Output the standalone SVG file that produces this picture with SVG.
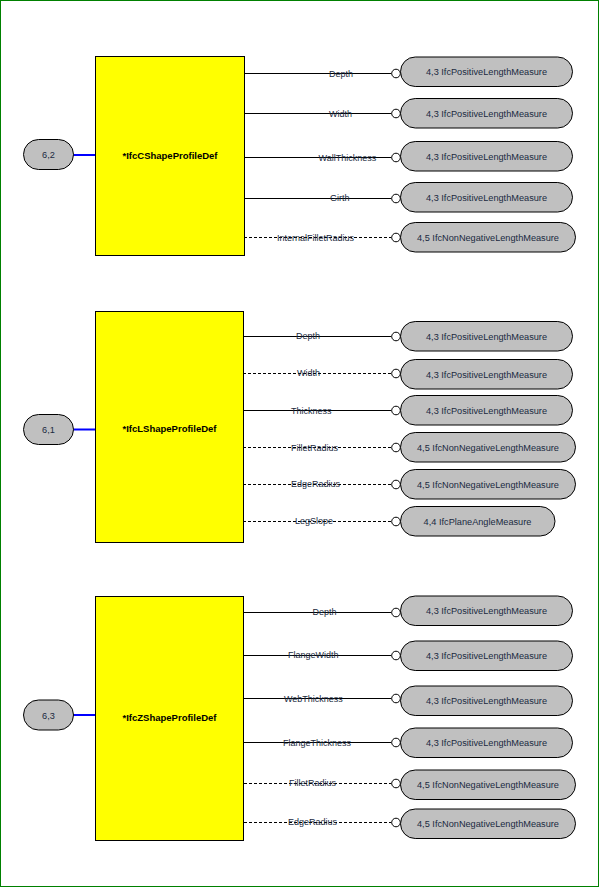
<svg xmlns="http://www.w3.org/2000/svg" width="600" height="888" viewBox="0 0 600 888">
<style>
.frame{fill:#fff;stroke:#008000;stroke-width:1}
.ent{fill:#ffff00;stroke:#000;stroke-width:1}
.ename{font-family:"Liberation Sans",Arial,sans-serif;font-size:9.5px;font-weight:bold;fill:#000;text-anchor:middle}
.pill{fill:#c0c0c0;stroke:#000;stroke-width:1}
.ptxt{font-family:"Liberation Sans",Arial,sans-serif;font-size:9.2px;fill:#1a2a40;text-anchor:middle}
.lbl{font-family:"Liberation Sans",Arial,sans-serif;font-size:9px;fill:#1a2a40}
.ln{stroke:#000;stroke-width:1;fill:none}
.dash{stroke:#000;stroke-width:1;fill:none;stroke-dasharray:3,2}
.blue{stroke:#0000ff;stroke-width:2;fill:none}
.cir{fill:#fff;stroke:#000;stroke-width:1}
</style>
<rect class="frame" x="0.5" y="0.5" width="598" height="886"/>

<g id="connectors">
  <line class="blue" x1="73" y1="155" x2="95" y2="155"/>
  <line class="blue" x1="73" y1="429.5" x2="95" y2="429.5"/>
  <line class="blue" x1="73" y1="715" x2="95" y2="715"/>

  <line class="ln" x1="244" y1="73.5" x2="391.5" y2="73.5"/>
  <line class="ln" x1="244" y1="113.5" x2="391.5" y2="113.5"/>
  <line class="ln" x1="244" y1="157.5" x2="391.5" y2="157.5"/>
  <line class="ln" x1="244" y1="198.5" x2="391.5" y2="198.5"/>
  <line class="dash" x1="244" y1="237.5" x2="391.5" y2="237.5"/>

  <line class="ln" x1="243" y1="336.5" x2="391.5" y2="336.5"/>
  <line class="dash" x1="243" y1="373.5" x2="391.5" y2="373.5"/>
  <line class="ln" x1="243" y1="410.5" x2="391.5" y2="410.5"/>
  <line class="dash" x1="243" y1="447.5" x2="391.5" y2="447.5"/>
  <line class="dash" x1="243" y1="484.5" x2="391.5" y2="484.5"/>
  <line class="dash" x1="243" y1="521.5" x2="391.5" y2="521.5"/>

  <line class="ln" x1="244" y1="612.5" x2="391.5" y2="612.5"/>
  <line class="ln" x1="244" y1="655.5" x2="391.5" y2="655.5"/>
  <line class="ln" x1="244" y1="698.5" x2="391.5" y2="698.5"/>
  <line class="ln" x1="244" y1="742.5" x2="391.5" y2="742.5"/>
  <line class="dash" x1="244" y1="783.5" x2="391.5" y2="783.5"/>
  <line class="dash" x1="244" y1="822.5" x2="391.5" y2="822.5"/>

  <g>
    <circle class="cir" cx="396" cy="73.5" r="4.3"/>
    <circle class="cir" cx="396" cy="113.5" r="4.3"/>
    <circle class="cir" cx="396" cy="157.5" r="4.3"/>
    <circle class="cir" cx="396" cy="198.5" r="4.3"/>
    <circle class="cir" cx="396" cy="237.5" r="4.3"/>
    <circle class="cir" cx="396" cy="336.5" r="4.3"/>
    <circle class="cir" cx="396" cy="373.5" r="4.3"/>
    <circle class="cir" cx="396" cy="410.5" r="4.3"/>
    <circle class="cir" cx="396" cy="447.5" r="4.3"/>
    <circle class="cir" cx="396" cy="484.5" r="4.3"/>
    <circle class="cir" cx="396" cy="521.5" r="4.3"/>
    <circle class="cir" cx="396" cy="612.5" r="4.3"/>
    <circle class="cir" cx="396" cy="655.5" r="4.3"/>
    <circle class="cir" cx="396" cy="698.5" r="4.3"/>
    <circle class="cir" cx="396" cy="742.5" r="4.3"/>
    <circle class="cir" cx="396" cy="783.5" r="4.3"/>
    <circle class="cir" cx="396" cy="822.5" r="4.3"/>
  </g>

  <text class="lbl" x="329" y="76.5">Depth</text>
  <text class="lbl" x="329" y="116.5">Width</text>
  <text class="lbl" x="318.5" y="160.5">WallThickness</text>
  <text class="lbl" x="330" y="201">Girth</text>
  <text class="lbl" x="277" y="240.5">InternalFilletRadius</text>

  <text class="lbl" x="296" y="339">Depth</text>
  <text class="lbl" x="297" y="376">Width</text>
  <text class="lbl" x="291" y="413.5">Thickness</text>
  <text class="lbl" x="291" y="450.5">FilletRadius</text>
  <text class="lbl" x="291" y="487">EdgeRadius</text>
  <text class="lbl" x="295" y="524">LegSlope</text>

  <text class="lbl" x="312.5" y="614.5">Depth</text>
  <text class="lbl" x="288" y="658">FlangeWidth</text>
  <text class="lbl" x="284" y="701.5">WebThickness</text>
  <text class="lbl" x="283" y="745.5">FlangeThickness</text>
  <text class="lbl" x="289" y="786">FilletRadius</text>
  <text class="lbl" x="288" y="825">EdgeRadius</text>
</g>

<g id="IfcCShapeProfileDef">
  <rect class="ent" x="95.5" y="56.5" width="149" height="199"/>
  <text class="ename" x="170" y="159">*IfcCShapeProfileDef</text>
</g>
<g id="ref62">
  <rect class="pill" x="23.5" y="139.5" width="50" height="30" rx="15"/>
  <text class="ptxt" x="48.5" y="158">6,2</text>
</g>
<g id="c_depth"><rect class="pill" x="400.5" y="57" width="172" height="29.5" rx="14.75"/><text class="ptxt" x="486.5" y="75">4,3 IfcPositiveLengthMeasure</text></g>
<g id="c_width"><rect class="pill" x="400.5" y="98.5" width="172" height="29.5" rx="14.75"/><text class="ptxt" x="486.5" y="116.5">4,3 IfcPositiveLengthMeasure</text></g>
<g id="c_wall"><rect class="pill" x="400.5" y="141.5" width="172" height="29.5" rx="14.75"/><text class="ptxt" x="486.5" y="159.5">4,3 IfcPositiveLengthMeasure</text></g>
<g id="c_girth"><rect class="pill" x="400.5" y="182.5" width="172" height="29.5" rx="14.75"/><text class="ptxt" x="486.5" y="200.5">4,3 IfcPositiveLengthMeasure</text></g>
<g id="c_ifr"><rect class="pill" x="400.5" y="222.5" width="175" height="29.5" rx="14.75"/><text class="ptxt" x="488" y="240.5">4,5 IfcNonNegativeLengthMeasure</text></g>

<g id="IfcLShapeProfileDef">
  <rect class="ent" x="95.5" y="311.5" width="148" height="231"/>
  <text class="ename" x="169.5" y="431.5">*IfcLShapeProfileDef</text>
</g>
<g id="ref61">
  <rect class="pill" x="23.5" y="414.5" width="50" height="30" rx="15"/>
  <text class="ptxt" x="48.5" y="433">6,1</text>
</g>
<g id="l_depth"><rect class="pill" x="400.5" y="321.5" width="172" height="29.5" rx="14.75"/><text class="ptxt" x="486.5" y="339.5">4,3 IfcPositiveLengthMeasure</text></g>
<g id="l_width"><rect class="pill" x="400.5" y="359.5" width="172" height="29.5" rx="14.75"/><text class="ptxt" x="486.5" y="377.5">4,3 IfcPositiveLengthMeasure</text></g>
<g id="l_thick"><rect class="pill" x="400.5" y="395.5" width="172" height="29.5" rx="14.75"/><text class="ptxt" x="486.5" y="413.5">4,3 IfcPositiveLengthMeasure</text></g>
<g id="l_fillet"><rect class="pill" x="400.5" y="432.5" width="175" height="29.5" rx="14.75"/><text class="ptxt" x="488" y="450.5">4,5 IfcNonNegativeLengthMeasure</text></g>
<g id="l_edge"><rect class="pill" x="400.5" y="469.5" width="175" height="29.5" rx="14.75"/><text class="ptxt" x="488" y="487.5">4,5 IfcNonNegativeLengthMeasure</text></g>
<g id="l_slope"><rect class="pill" x="400.5" y="506.5" width="154.5" height="29.5" rx="14.75"/><text class="ptxt" x="477.5" y="524.5">4,4 IfcPlaneAngleMeasure</text></g>

<g id="IfcZShapeProfileDef">
  <rect class="ent" x="95.5" y="596.5" width="148" height="244"/>
  <text class="ename" x="169.5" y="721">*IfcZShapeProfileDef</text>
</g>
<g id="ref63">
  <rect class="pill" x="23.5" y="700" width="50" height="30" rx="15"/>
  <text class="ptxt" x="48.5" y="718.5">6,3</text>
</g>
<g id="z_depth"><rect class="pill" x="400.5" y="596" width="172" height="29.5" rx="14.75"/><text class="ptxt" x="486.5" y="614">4,3 IfcPositiveLengthMeasure</text></g>
<g id="z_fw"><rect class="pill" x="400.5" y="641" width="172" height="29.5" rx="14.75"/><text class="ptxt" x="486.5" y="659">4,3 IfcPositiveLengthMeasure</text></g>
<g id="z_wt"><rect class="pill" x="400.5" y="686" width="172" height="29.5" rx="14.75"/><text class="ptxt" x="486.5" y="704">4,3 IfcPositiveLengthMeasure</text></g>
<g id="z_ft"><rect class="pill" x="400.5" y="728" width="172" height="29.5" rx="14.75"/><text class="ptxt" x="486.5" y="746">4,3 IfcPositiveLengthMeasure</text></g>
<g id="z_fillet"><rect class="pill" x="400.5" y="770" width="175" height="29.5" rx="14.75"/><text class="ptxt" x="488" y="788">4,5 IfcNonNegativeLengthMeasure</text></g>
<g id="z_edge"><rect class="pill" x="400.5" y="809" width="175" height="29.5" rx="14.75"/><text class="ptxt" x="488" y="827">4,5 IfcNonNegativeLengthMeasure</text></g>
</svg>
